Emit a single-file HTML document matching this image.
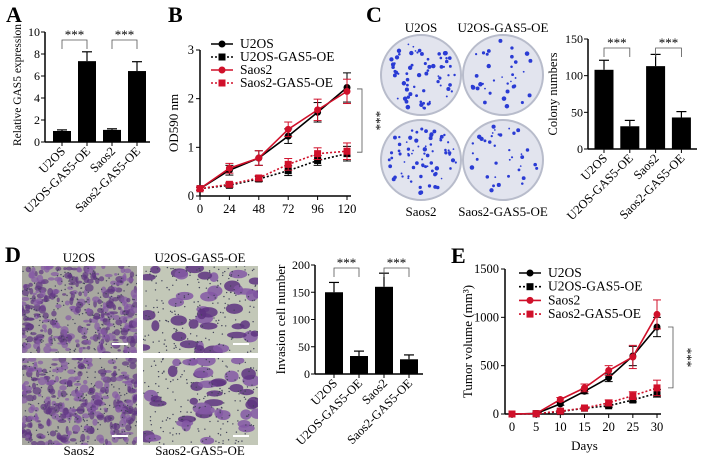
<!DOCTYPE html>
<html><head><meta charset="utf-8"><style>
body{margin:0;background:#fff}
svg{display:block;font-family:"Liberation Serif",serif}
</style></head><body>
<svg id="fig" width="701" height="462" viewBox="0 0 701 462" xmlns="http://www.w3.org/2000/svg">
<defs>
<clipPath id="cl1"><rect x="22" y="266" width="115" height="87"/></clipPath>
<clipPath id="cl2"><rect x="143" y="266" width="115" height="87"/></clipPath>
<clipPath id="cl3"><rect x="22" y="358" width="115" height="87"/></clipPath>
<clipPath id="cl4"><rect x="143" y="358" width="115" height="87"/></clipPath>
</defs>
<g font-weight="bold" font-size="22">
<text x="6" y="22">A</text>
<text x="168" y="22">B</text>
<text x="366" y="22">C</text>
<text x="5" y="262">D</text>
<text x="451" y="263">E</text>
</g>
</svg>
<script>
const NS='http://www.w3.org/2000/svg';
const svg=document.getElementById('fig');
function mk(tag,at,parent,txt){const e=document.createElementNS(NS,tag);for(const k in at)e.setAttribute(k,at[k]);if(txt!==undefined)e.textContent=txt;(parent||svg).appendChild(e);return e;}

// ---------- data ----------
const barCats=['U2OS','U2OS-GAS5-OE','Saos2','Saos2-GAS5-OE'];
const aValues=[1.0,7.35,1.1,6.45];
const aErrors=[0.1,0.85,0.1,0.85];
const aTicks=[0,2,4,6,8,10];
const cValues=[108,31,113,43];
const cErrors=[13,8,16,8];
const cTicks=[0,50,100,150];
const dValues=[150,33,160,27];
const dErrors=[18,9,25,8];
const dTicks=[0,50,100,150,200];
const lineSeries=['U2OS','U2OS-GAS5-OE','Saos2','Saos2-GAS5-OE'];
const bX=[0,24,48,72,96,120];
const bU2OS=[0.15,0.53,0.78,1.23,1.72,2.23];
const bU2OSerr=[0.03,0.1,0.15,0.15,0.2,0.3];
const bU2OSOE=[0.15,0.22,0.35,0.52,0.73,0.87];
const bU2OSOEerr=[0.03,0.04,0.05,0.1,0.1,0.15];
const bSaos2=[0.15,0.57,0.78,1.37,1.77,2.15];
const bSaos2err=[0.03,0.1,0.15,0.15,0.22,0.25];
const bSaos2OE=[0.15,0.24,0.37,0.65,0.87,0.92];
const bSaos2OEerr=[0.03,0.04,0.05,0.12,0.12,0.17];
const bYTicks=[0,1,2,3];
const eX=[0,5,10,15,20,25,30];
const eU2OS=[0,5,105,235,375,600,900];
const eU2OSerr=[0,5,15,25,40,100,100];
const eU2OSOE=[0,3,25,60,85,145,215];
const eU2OSOEerr=[0,3,8,10,15,20,40];
const eSaos2=[0,5,150,270,450,590,1030];
const eSaos2err=[0,5,20,40,50,120,150];
const eSaos2OE=[0,3,30,62,115,190,270];
const eSaos2OEerr=[0,3,8,10,30,40,80];
const eYTicks=[0,500,1000,1500];

// ---------- bar chart ----------
function barChart(o){
  const g=mk('g',{});
  const y=v=>o.y0-(v/o.max)*(o.y0-o.y1);
  mk('line',{x1:o.ax,y1:o.y1,x2:o.ax,y2:o.y0,stroke:'#000','stroke-width':1.5},g);
  mk('line',{x1:o.ax,y1:o.y0,x2:o.xend,y2:o.y0,stroke:'#000','stroke-width':1.5},g);
  o.ticks.forEach(t=>{mk('line',{x1:o.ax-4,y1:y(t),x2:o.ax,y2:y(t),stroke:'#000'},g);
    mk('text',{x:o.ax-5,y:y(t)+4,'text-anchor':'end','font-size':12},g,t);});
  const tyc=o.tyc||(o.y0+o.y1)/2;
  const t=mk('text',{x:o.tx,y:tyc,'text-anchor':'middle','font-size':o.tfs,transform:`rotate(-90 ${o.tx} ${tyc})`},g,o.title);
  
  barCats.forEach((c,i)=>{
    const cx=o.c0+i*o.step,v=o.vals[i],e=o.errs[i];
    const r=mk('rect',{x:cx-o.bw/2,y:y(v),width:o.bw,height:o.y0-y(v),fill:'#000'},g);
    
    mk('line',{x1:cx,y1:y(v),x2:cx,y2:y(v+e),stroke:'#000','stroke-width':1.2},g);
    mk('line',{x1:cx-5,y1:y(v+e),x2:cx+5,y2:y(v+e),stroke:'#000','stroke-width':1.2},g);
    mk('line',{x1:cx,y1:o.y0,x2:cx,y2:o.y0+4,stroke:'#000'},g);
    const lx=cx+4,ly=o.y0+10;
    mk('text',{x:lx,y:ly,'text-anchor':'end','font-size':12.5,transform:`rotate(-45 ${lx} ${ly})`},g,c);
  });
  [0,2].forEach(i=>{const a=o.c0+i*o.step,b=a+o.step,top=o.by;
    mk('path',{d:`M${a} ${top+9}V${top}H${b}V${top+9}`,fill:'none',stroke:'#555','stroke-width':0.8},g);
    mk('text',{x:(a+b)/2,y:top-1,'text-anchor':'middle','font-size':13},g,'***');});
}
barChart({name:'chart-a',ax:45,y0:142,y1:32,max:10,xend:150,ticks:aTicks,vals:aValues,errs:aErrors,c0:62,step:25,bw:18,tx:21,tfs:11.5,tyc:85,title:'Relative GAS5 expression',by:40});
barChart({name:'chart-c',ax:588,y0:149,y1:39,max:150,xend:697,ticks:cTicks,vals:cValues,errs:cErrors,c0:604,step:25.8,bw:19,tx:557,tfs:12.5,title:'Colony numbers',by:48});
barChart({name:'chart-d',ax:315,y0:374,y1:265,max:200,xend:423,ticks:dTicks,vals:dValues,errs:dErrors,c0:334,step:25,bw:18,tx:285,tfs:13,title:'Invasion cell number',by:268});

// ---------- line chart ----------
function lineChart(o){
  const g=mk('g',{});
  const x=v=>o.x0+(v-o.xs[0])/(o.xs[o.xs.length-1]-o.xs[0])*(o.x1-o.x0);
  const y=v=>o.y0-(v/o.max)*(o.y0-o.y1);
  mk('line',{x1:o.ax,y1:o.y1,x2:o.ax,y2:o.y0,stroke:'#000','stroke-width':1.5},g);
  mk('line',{x1:o.ax,y1:o.y0,x2:o.x1+4,y2:o.y0,stroke:'#000','stroke-width':1.5},g);
  o.yt.forEach(t=>{mk('line',{x1:o.ax-4,y1:y(t),x2:o.ax,y2:y(t),stroke:'#000'},g);
    mk('text',{x:o.ax-6,y:y(t)+4,'text-anchor':'end','font-size':12.5},g,t);});
  o.xs.forEach(t=>{mk('line',{x1:x(t),y1:o.y0,x2:x(t),y2:o.y0+4,stroke:'#000'},g);
    mk('text',{x:x(t),y:o.y0+17,'text-anchor':'middle','font-size':12.5},g,t);});
  const tt=mk('text',{x:o.tx,y:(o.y0+o.y1)/2,'text-anchor':'middle','font-size':13,transform:`rotate(-90 ${o.tx} ${(o.y0+o.y1)/2})`},g,o.title);
  
  if(o.xtitle){const xt=mk('text',{x:(o.x0+o.x1)/2,y:o.y0+36,'text-anchor':'middle','font-size':13},g,o.xtitle);}
  const sty=[{c:'#000',d:'',m:'c'},{c:'#000',d:'2 2',m:'s'},{c:'#d0102a',d:'',m:'c'},{c:'#d0102a',d:'2 2',m:'s'}];
  o.series.forEach((s,k)=>{
    const st=sty[k];const sg=mk('g',{},g);
    
    
    s.v.forEach((v,i)=>{const px=x(o.xs[i]);
      if(s.e[i]>0){mk('line',{x1:px,y1:y(v-s.e[i]),x2:px,y2:y(v+s.e[i]),stroke:st.c,'stroke-width':1},sg);
      [v-s.e[i],v+s.e[i]].forEach(w=>mk('line',{x1:px-4,y1:y(w),x2:px+4,y2:y(w),stroke:st.c,'stroke-width':1},sg));}});
    mk('polyline',{points:s.v.map((v,i)=>x(o.xs[i])+','+y(v)).join(' '),fill:'none',stroke:st.c,'stroke-width':1.6,'stroke-dasharray':st.d},sg);
    s.v.forEach((v,i)=>{const px=x(o.xs[i]),py=y(v);
      if(st.m=='c')mk('circle',{cx:px,cy:py,r:3.5,fill:st.c},sg);else mk('rect',{x:px-3.5,y:py-3.5,width:7,height:7,fill:st.c},sg);});
    const ly=o.ly+k*o.lstep;
    const lg=mk('g',{},g);
    mk('line',{x1:o.lx,y1:ly,x2:o.lx+22,y2:ly,stroke:st.c,'stroke-width':1.6,'stroke-dasharray':st.d},lg);
    if(st.m=='c')mk('circle',{cx:o.lx+11,cy:ly,r:3.5,fill:st.c},lg);else mk('rect',{x:o.lx+7.5,y:ly-3.5,width:7,height:7,fill:st.c},lg);
    mk('text',{x:o.lx+29,y:ly+4,'font-size':13.5},lg,lineSeries[k]);
  });
  const a=y(o.br[0]),b=y(o.br[1]);
  mk('path',{d:`M${o.bx-5} ${a}H${o.bx}V${b}H${o.bx-5}`,fill:'none',stroke:'#555','stroke-width':0.8},g);
  const mx=o.bx+10,my=(a+b)/2;
  mk('text',{x:mx,y:my,'text-anchor':'middle','font-size':13,transform:`rotate(90 ${mx} ${my})`},g,'***');
}
lineChart({name:'chart-b',ax:200,x0:200,x1:347,y0:196,y1:50,max:3,xs:bX,yt:bYTicks,tx:178,title:'OD590 nm',
 series:[{v:bU2OS,e:bU2OSerr},{v:bU2OSOE,e:bU2OSOEerr},{v:bSaos2,e:bSaos2err},{v:bSaos2OE,e:bSaos2OEerr}],
 lx:211,ly:44,lstep:13,bx:362,br:[2.2,0.9]});
lineChart({name:'chart-e',ax:505,x0:512,x1:657,y0:414,y1:269,max:1500,xs:eX,yt:eYTicks,tx:472,title:'Tumor volume (mm³)',xtitle:'Days',
 series:[{v:eU2OS,e:eU2OSerr},{v:eU2OSOE,e:eU2OSOEerr},{v:eSaos2,e:eSaos2err},{v:eSaos2OE,e:eSaos2OEerr}],
 lx:519,ly:273,lstep:13.7,bx:673,br:[900,270]});

// ---------- textures (colony dishes & invasion images) ----------
let seed=7;function rnd(){seed=(seed*16807)%2147483647;return seed/2147483647;}
const dishes=[[421,75,'U2OS',70,32],[503,75,'U2OS-GAS5-OE',35,32],[421,160,'Saos2',75,216],[503,160,'Saos2-GAS5-OE',38,216]];
dishes.forEach(d=>{const g=mk('g',{});
  mk('circle',{cx:d[0],cy:d[1],r:40,fill:'#e2e4ee',stroke:'#b8bccb','stroke-width':2},g);
  for(let i=0;i<d[3];i++){const a=rnd()*6.283,r=Math.sqrt(rnd())*35;
    mk('circle',{cx:d[0]+r*Math.cos(a),cy:d[1]+r*Math.sin(a),r:0.8+rnd()*1.5,fill:'#2a3bd4'},g);}
  const lb=mk('text',{x:d[0],y:d[4],'text-anchor':'middle','font-size':13},svg,d[2]);
});
const imgs=[[22,266,'U2OS',1,'cl1',262],[143,266,'U2OS-GAS5-OE',0,'cl2',262],[22,358,'Saos2',1,'cl3',455],[143,358,'Saos2-GAS5-OE',0,'cl4',455]];
imgs.forEach(m=>{const g=mk('g',{'clip-path':`url(#${m[4]})`});
  mk('rect',{x:m[0],y:m[1],width:115,height:87,fill:m[3]?'#a8a8a0':'#c3c8b8'},g);
  const n=m[3]?300:40;
  for(let i=0;i<n;i++){mk('ellipse',{cx:m[0]+rnd()*115,cy:m[1]+rnd()*87,rx:(m[3]?1.5:4)+rnd()*(m[3]?3:6),ry:(m[3]?1.2:3)+rnd()*3,fill:rnd()<0.5?'#5e3480':'#8458a4',opacity:m[3]?0.7:0.85},g);}
  for(let i=0;i<200;i++){mk('circle',{cx:m[0]+rnd()*115,cy:m[1]+rnd()*87,r:0.7,fill:'#44445a'},g);}
  mk('line',{x1:m[0]+90,y1:m[1]+78,x2:m[0]+106,y2:m[1]+78,stroke:'#fff','stroke-width':2},g);
  const lb=mk('text',{x:m[0]+57,y:m[5],'text-anchor':'middle','font-size':13},svg,m[2]);
});
</script>
</body></html>
